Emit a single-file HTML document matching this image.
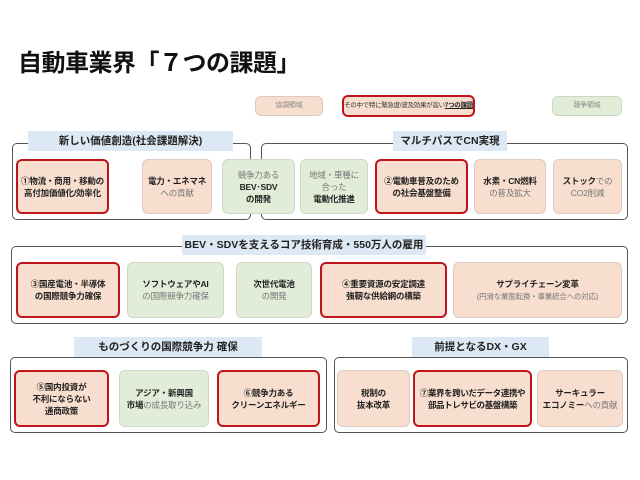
<!DOCTYPE html>
<html><head><meta charset="utf-8"><style>
body{margin:0;width:640px;height:480px;background:#fff;position:relative;overflow:hidden;font-family:"Liberation Sans","Noto Sans CJK JP",sans-serif;}
div{position:absolute;box-sizing:border-box;}
.t{left:18px;top:43px;font-size:24px;font-weight:bold;color:#111;letter-spacing:-0.5px;}
.g{border:1.5px solid #555;border-radius:5px;}
.lb{background:#dce8f4;font-size:10.5px;font-weight:bold;color:#222;text-align:center;line-height:20px;white-space:nowrap;}
.b{border-radius:6px;display:flex;align-items:center;justify-content:center;text-align:center;font-size:8.5px;line-height:12px;color:#333;white-space:nowrap;letter-spacing:-0.2px;}
.p{background:#f8dece;border:1px solid #ddcbbf;}
.gr{background:#e2edd9;border:1px solid #cdd9c4;}
.r{border:2.5px solid #c0141c;}
b{font-weight:bold;color:#222;}
.lt{color:#777;}
</style></head><body>
<div class="t">自動車業界「７つの課題」</div>
<div class="b p" style="left:255px;top:96px;width:68px;height:20px;font-size:7px;color:#888;">協調領域</div>
<div class="b p r" style="left:342px;top:95px;width:133px;height:22px;font-size:6.5px;letter-spacing:-0.3px;">その中で特に緊急度/波及効果が高い<b style="text-decoration:underline">7つの課題</b></div>
<div class="b gr" style="left:552px;top:96px;width:70px;height:20px;font-size:7px;color:#888;">競争領域</div>

<div class="g" style="left:12px;top:143px;width:239px;height:77px;"></div>
<div class="lb" style="left:28px;top:131px;width:205px;height:20px;">新しい価値創造(社会課題解決)</div>
<div class="g" style="left:261px;top:143px;width:367px;height:77px;"></div>
<div class="lb" style="left:393px;top:131px;width:114px;height:20px;">マルチパスでCN実現</div>

<div class="b p r" style="left:16px;top:159px;width:93px;height:55px;"><b>①物流・商用・移動の<br>高付加価値化/効率化</b></div>
<div class="b p" style="left:142px;top:159px;width:70px;height:55px;"><span><b>電力・エネマネ</b><br><span class="lt">への貢献</span></span></div>
<div class="b gr" style="left:222px;top:159px;width:73px;height:55px;"><span><span class="lt">競争力ある</span><br><b>BEV･SDV</b><br><b>の開発</b></span></div>
<div class="b gr" style="left:300px;top:159px;width:68px;height:55px;"><span><span class="lt">地域・車種に<br>合った</span><br><b>電動化推進</b></span></div>
<div class="b p r" style="left:375px;top:159px;width:93px;height:55px;"><b>②電動車普及のため<br>の社会基盤整備</b></div>
<div class="b p" style="left:474px;top:159px;width:72px;height:55px;"><span><b>水素・CN燃料</b><br><span class="lt">の普及拡大</span></span></div>
<div class="b p" style="left:553px;top:159px;width:69px;height:55px;"><span><b>ストック</b><span class="lt">での</span><br><span class="lt">CO2削減</span></span></div>

<div class="g" style="left:11px;top:246px;width:617px;height:78px;"></div>
<div class="lb" style="left:182px;top:235px;width:244px;height:20px;">BEV・SDVを支えるコア技術育成・550万人の雇用</div>
<div class="b p r" style="left:16px;top:262px;width:104px;height:56px;"><b>③国産電池・半導体<br>の国際競争力確保</b></div>
<div class="b gr" style="left:127px;top:262px;width:97px;height:56px;"><span><b>ソフトウェアやAI</b><br><span class="lt">の国際競争力確保</span></span></div>
<div class="b gr" style="left:236px;top:262px;width:76px;height:56px;"><span><b>次世代電池</b><br><span class="lt">の開発</span></span></div>
<div class="b p r" style="left:320px;top:262px;width:127px;height:56px;"><b>④重要資源の安定調達<br>強靭な供給網の構築</b></div>
<div class="b p" style="left:453px;top:262px;width:169px;height:56px;"><span><b>サプライチェーン変革</b><br><span class="lt" style="font-size:7.5px">(円滑な業態転換・事業統合への対応)</span></span></div>

<div class="g" style="left:10px;top:357px;width:317px;height:76px;"></div>
<div class="lb" style="left:74px;top:337px;width:188px;height:20px;">ものづくりの国際競争力 確保</div>
<div class="g" style="left:334px;top:357px;width:294px;height:76px;"></div>
<div class="lb" style="left:412px;top:337px;width:137px;height:20px;">前提となるDX・GX</div>

<div class="b p r" style="left:14px;top:370px;width:95px;height:57px;"><b>⑤国内投資が<br>不利にならない<br>通商政策</b></div>
<div class="b gr" style="left:119px;top:370px;width:90px;height:57px;"><span><b>アジア・新興国</b><br><b>市場</b><span class="lt">の成長取り込み</span></span></div>
<div class="b p r" style="left:217px;top:370px;width:103px;height:57px;"><b>⑥競争力ある<br>クリーンエネルギー</b></div>
<div class="b p" style="left:337px;top:370px;width:73px;height:57px;"><b>税制の<br>抜本改革</b></div>
<div class="b p r" style="left:413px;top:370px;width:119px;height:57px;letter-spacing:-0.4px;"><b>⑦業界を跨いだデータ連携や<br>部品トレサビの基盤構築</b></div>
<div class="b p" style="left:537px;top:370px;width:86px;height:57px;"><span><b>サーキュラー</b><br><b>エコノミー</b><span class="lt">への貢献</span></span></div>
</body></html>
